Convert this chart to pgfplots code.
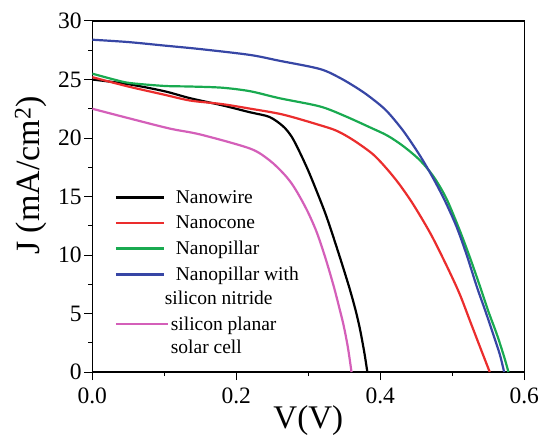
\documentclass[border=0pt]{standalone}
\usepackage{fontspec}
\setmainfont{Liberation Serif}
\usepackage{pgfplots}
\pgfplotsset{compat=1.18}
\definecolor{cwire}{RGB}{0,0,0}
\definecolor{ccone}{RGB}{235,45,45}
\definecolor{cpill}{RGB}{25,170,80}
\definecolor{csin}{RGB}{55,70,165}
\definecolor{cplan}{RGB}{212,95,185}
% legend line raised to the first line of a two-line entry
\pgfplotsset{
  twoline/.style={legend image code/.code={\draw[##1] (0pt,11.75pt) -- (48pt,11.75pt);}},
  twolinelong/.style={legend image code/.code={\draw[##1] (0pt,11.75pt) -- (52pt,11.75pt);}},
}
\begin{document}
\begin{tikzpicture}
\path[use as bounding box] (-92.3pt,-65pt) rectangle (448.7pt,372pt);
\begin{axis}[
  scale only axis, width=432pt, height=351pt,
  xmin=0, xmax=0.6, ymin=0, ymax=30,
  xtick={0,0.2,0.4,0.6}, ytick={0,5,...,30},
  minor x tick num=1, minor y tick num=1,
  xtick pos=left, ytick pos=left,
  tick align=outside, major tick length=8pt, minor tick length=4pt,
  axis line style={line width=1.2pt},
  every tick/.style={line width=1pt, black},
  /pgf/number format/assume math mode=true,
  ticklabel style={font=\fontsize{23.5}{28}\selectfont, inner sep=1.5pt},
  xticklabel style={yshift=-6pt, /pgf/number format/.cd, fixed, fixed zerofill, precision=1},
  yticklabel style={xshift=-1pt},
  xlabel={V(V)}, ylabel={J (mA/cm\textsuperscript{2})},
  xlabel style={font=\fontsize{33}{40}\selectfont, at={(axis description cs:0.5,-0.137)}, anchor=center},
  ylabel style={font=\fontsize{34}{41}\selectfont, at={(axis description cs:-0.142,0.56)}, anchor=center},
  legend style={at={(axis cs:0.028,15.8)}, anchor=north west, draw=none, fill=none,
    font=\fontsize{19.5}{23.5}\selectfont, row sep=9pt, column sep=6pt, inner sep=2pt,
    nodes={inner sep=1pt}, cells={anchor=west, align=left}},
  legend image code/.code={\draw[#1] (0pt,0pt) -- (48pt,0pt);},
  every axis plot/.append style={line width=2.2pt, smooth, no markers},
]
% Nanowire
\addplot[cwire] coordinates {(0,25.0) (0.05,24.6) (0.1,24.0) (0.136,23.4) (0.18,22.8) (0.219,22.2) (0.246,21.8) (0.265,21.0) (0.277,20.1) (0.288,18.8) (0.3,17.2) (0.312,15.4) (0.324,13.5) (0.335,11.5) (0.347,9.2) (0.358,7.0) (0.366,5.2) (0.372,3.6) (0.378,1.6) (0.382,0)};
\addlegendentry{Nanowire}
% Nanocone
\addplot[ccone] coordinates {(0,25.2) (0.05,24.4) (0.1,23.7) (0.136,23.2) (0.18,22.9) (0.22,22.5) (0.265,22.0) (0.316,21.1) (0.34,20.6) (0.363,19.8) (0.39,18.6) (0.41,17.3) (0.427,16.0) (0.446,14.3) (0.47,11.8) (0.492,9.1) (0.51,6.7) (0.525,4.3) (0.54,1.9) (0.552,0)};
\addlegendentry{Nanocone}
% Nanopillar
\addplot[cpill] coordinates {(0,25.5) (0.03,25.0) (0.052,24.7) (0.1,24.45) (0.136,24.4) (0.18,24.3) (0.219,24.0) (0.26,23.4) (0.316,22.7) (0.35,21.9) (0.386,20.9) (0.41,20.2) (0.432,19.3) (0.455,18.1) (0.474,16.7) (0.492,14.8) (0.511,12.0) (0.525,9.7) (0.538,7.4) (0.55,5.2) (0.562,3.2) (0.572,1.3) (0.578,0)};
\addlegendentry{Nanopillar}
% Nanopillar with silicon nitride
\addplot[csin, twoline] coordinates {(0,28.4) (0.05,28.2) (0.1,27.9) (0.15,27.6) (0.219,27.1) (0.26,26.6) (0.316,25.9) (0.345,25.1) (0.372,24.1) (0.39,23.3) (0.409,22.3) (0.432,20.6) (0.455,18.5) (0.474,16.5) (0.49,14.6) (0.506,12.4) (0.52,10.0) (0.534,7.3) (0.546,5.2) (0.557,3.2) (0.566,1.5) (0.572,0)};
\addlegendentry{Nanopillar with\\\hspace*{-11pt}silicon nitride}
% silicon planar solar cell
\addplot[cplan, twolinelong] coordinates {(0,22.5) (0.05,21.7) (0.108,20.8) (0.15,20.3) (0.219,19.1) (0.246,18.1) (0.265,17.0) (0.277,16.1) (0.288,15.0) (0.3,13.6) (0.312,11.9) (0.324,9.7) (0.335,7.4) (0.343,5.5) (0.349,4.0) (0.355,2.1) (0.36,0)};
\addlegendentry{\hspace*{-5pt}silicon planar\\\hspace*{-5pt}solar cell}
\end{axis}
\end{tikzpicture}
\end{document}
